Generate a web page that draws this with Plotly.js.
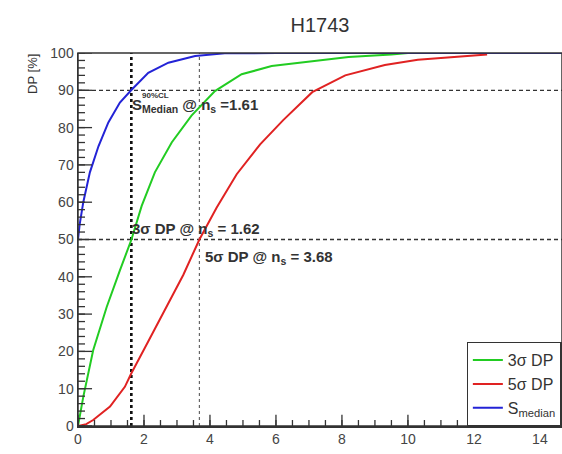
<!DOCTYPE html>
<html>
<head>
<meta charset="utf-8">
<script src="https://cdn.plot.ly/plotly-3.0.1.min.js"></script>
<style>
  html, body { margin: 0; padding: 0; background: #fff; }
  #chart { width: 562px; height: 454px; }
</style>
</head>
<body>
<div id="chart"></div>
<script>
// Detection probability vs. number of signal events n_s for source H1743

// S_median (90% CL sensitivity)
const medX = [0, 0.05, 0.16, 0.36, 0.62, 0.92, 1.27, 1.61, 2.13, 2.74, 3.55, 4.45, 6, 8, 10, 12, 15];
const medY = [50, 54, 60, 68, 75, 81.4, 86.7, 90, 94.7, 97.4, 99.2, 99.9, 100, 100, 100, 100, 100];

// 3 sigma discovery potential
const dp3X = [0, 0.16, 0.46, 0.87, 1.27, 1.62, 1.93, 2.33, 2.84, 3.44, 4.15, 4.96, 5.87, 7.17, 8.2, 9.5, 10];
const dp3Y = [0, 7.8, 20.3, 31.9, 41.7, 50, 59, 68, 76, 83.2, 89.8, 94.3, 96.5, 97.8, 98.9, 99.6, 100];

// 5 sigma discovery potential
const dp5X = [0, 0.25, 0.46, 0.97, 1.42, 1.61, 2.12, 2.69, 3.19, 3.68, 4.2, 4.81, 5.52, 6.22, 7.1, 8.1, 9.3, 10.3, 11.4, 12.4];
const dp5Y = [0, 0.5, 1.6, 5.2, 10.5, 14, 22.5, 32, 40.5, 50, 58.5, 67.5, 75.5, 82, 89.5, 94, 96.8, 98.2, 99, 99.6];

// Values at which each curve crosses its threshold level
const nsMedian = 1.61;
const ns3sigma = 1.62;
const ns5sigma = 3.68;
const levels = [50, 90];

const seriesNames = ['3\u03c3 DP', '5\u03c3 DP', 'S<sub>median</sub>'];
const seriesColors = ['#22cc22', '#e02222', '#2323d6'];

const X_RANGE = [0, 14.67];
const Y_RANGE = [0, 100];

const FONT = '"Liberation Sans", Arial, Helvetica, sans-serif';
const AXIS = '#333';

const traces = [
  { x: dp3X, y: dp3Y, name: seriesNames[0], mode: 'lines',
    line: { color: seriesColors[0], width: 2 } },
  { x: dp5X, y: dp5Y, name: seriesNames[1], mode: 'lines',
    line: { color: seriesColors[1], width: 2 } },
  { x: medX, y: medY, name: seriesNames[2], mode: 'lines',
    line: { color: seriesColors[2], width: 2 } }
];

const shapes = [];
levels.forEach(v => shapes.push({
  type: 'line', xref: 'paper', yref: 'y', x0: 0, x1: 1, y0: v, y1: v,
  line: { color: '#333', width: 1.3, dash: '4px,3px' }, layer: 'below'
}));
[nsMedian, ns3sigma].forEach(v => shapes.push({
  type: 'line', xref: 'x', yref: 'y', x0: v, x1: v, y0: 0, y1: 100,
  line: { color: '#111', width: 2.2, dash: 'dot' }, layer: 'below'
}));
shapes.push({
  type: 'line', xref: 'x', yref: 'y', x0: ns5sigma, x1: ns5sigma, y0: 0, y1: 100,
  line: { color: '#666', width: 1.2, dash: 'dot' }, layer: 'below'
});
// frame around the plotting area
shapes.push({
  type: 'rect', xref: 'paper', yref: 'paper', x0: 0, x1: 1, y0: 0, y1: 1,
  line: { color: AXIS, width: 1.5 }, fillcolor: 'rgba(0,0,0,0)', layer: 'above'
});

// inward tick marks along the bottom and left axes (major + subdivisions);
// lengths are given as fractions of the opposite axis span
function addXTicks(step, frac) {
  const len = frac * (Y_RANGE[1] - Y_RANGE[0]);
  for (let i = 0; i * step <= X_RANGE[1]; i++) {
    shapes.push({
      type: 'line', xref: 'x', yref: 'y', x0: i * step, x1: i * step,
      y0: Y_RANGE[0], y1: Y_RANGE[0] + len,
      line: { color: AXIS, width: 1.3 }, layer: 'above'
    });
  }
}
function addYTicks(step, frac) {
  const len = frac * (X_RANGE[1] - X_RANGE[0]);
  for (let i = 0; i * step <= Y_RANGE[1]; i++) {
    shapes.push({
      type: 'line', xref: 'x', yref: 'y', y0: i * step, y1: i * step,
      x0: X_RANGE[0], x1: X_RANGE[0] + len,
      line: { color: AXIS, width: 1.3 }, layer: 'above'
    });
  }
}
addXTicks(2, 0.03);
addXTicks(0.5, 0.016);
addYTicks(10, 0.029);
addYTicks(2, 0.0145);

const labelFont = { family: FONT, size: 15, color: '#333' };

const annotations = [
  { xref: 'x', yref: 'y', x: nsMedian - 0.03, y: 86, xanchor: 'left', yanchor: 'middle',
    showarrow: false, font: labelFont,
    text: '<b>S<sub>Median</sub> @ n<sub>s</sub> =' + nsMedian.toFixed(2) + '</b>' },
  { xref: 'x', yref: 'y', x: nsMedian + 0.28, y: 88.6, xanchor: 'left', yanchor: 'middle',
    showarrow: false, font: { family: FONT, size: 8, color: '#333' },
    text: '<b>90%CL</b>' },
  { xref: 'x', yref: 'y', x: ns3sigma - 0.03, y: 52.7, xanchor: 'left', yanchor: 'middle',
    showarrow: false, font: labelFont,
    text: '<b>3\u03c3 DP @ n<sub>s</sub> = ' + ns3sigma.toFixed(2) + '</b>' },
  { xref: 'x', yref: 'y', x: ns5sigma + 0.1, y: 45.2, xanchor: 'left', yanchor: 'middle',
    showarrow: false, font: labelFont,
    text: '<b>5\u03c3 DP @ n<sub>s</sub> = ' + ns5sigma.toFixed(2) + '</b>' },
  { xref: 'paper', yref: 'paper', x: -0.093, y: 0.944, xanchor: 'center', yanchor: 'middle',
    showarrow: false, textangle: -90, font: { family: FONT, size: 13, color: '#333' },
    text: 'DP [%]' }
];

const tickFont = { family: FONT, size: 14, color: '#444' };

const layout = {
  width: 562, height: 454,
  margin: { l: 78, r: 0, t: 53, b: 28, autoexpand: false },
  paper_bgcolor: '#fff', plot_bgcolor: '#fff',
  font: { family: FONT, color: '#333' },
  title: { text: 'H1743', x: 0.5, xref: 'paper', y: 0.945, yref: 'container',
           xanchor: 'center', yanchor: 'middle',
           font: { family: FONT, size: 20, color: '#333' } },
  xaxis: {
    range: X_RANGE, dtick: 2, tick0: 0, ticks: '',
    showgrid: false, zeroline: false,
    showline: true, linecolor: AXIS, linewidth: 1.5,
    tickfont: tickFont
  },
  yaxis: {
    range: Y_RANGE, dtick: 10, tick0: 0, ticks: '',
    showgrid: false, zeroline: false,
    showline: true, linecolor: AXIS, linewidth: 1.5,
    tickfont: tickFont
  },
  showlegend: true,
  legend: {
    x: 0.803, xanchor: 'left', y: 0, yanchor: 'bottom',
    bgcolor: '#fff', bordercolor: '#333', borderwidth: 1.2,
    itemwidth: 30, tracegroupgap: 0,
    font: { family: FONT, size: 16, color: '#333' }
  },
  shapes: shapes,
  annotations: annotations
};

Plotly.newPlot('chart', traces, layout, { displayModeBar: false, staticPlot: true });
</script>
</body>
</html>
